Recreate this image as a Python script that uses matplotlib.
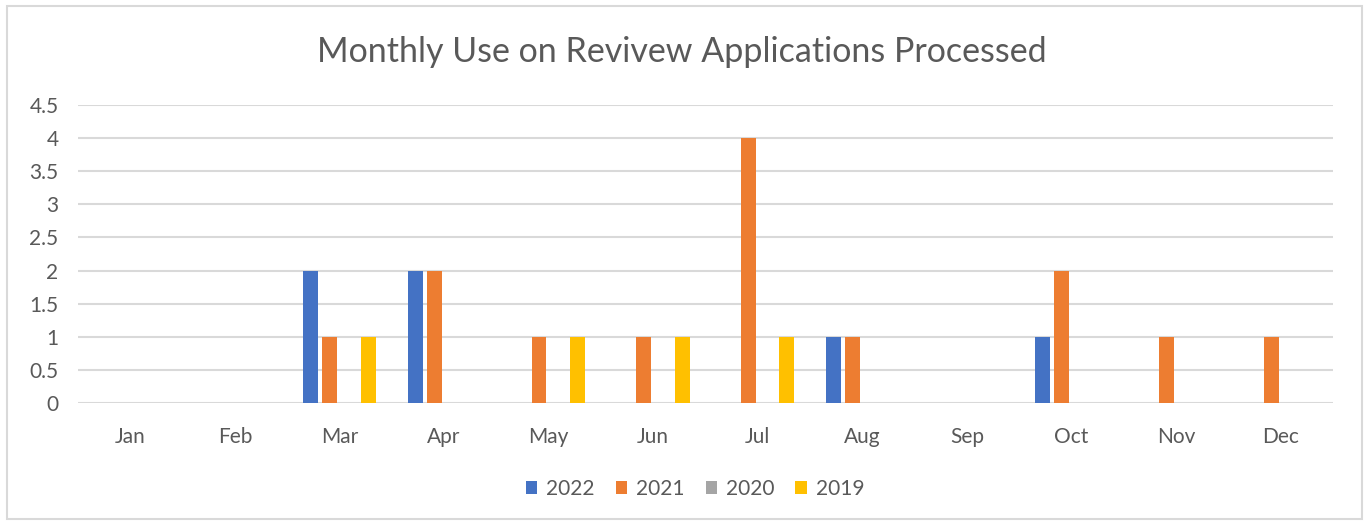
import numpy as np
import matplotlib.pyplot as plt
from matplotlib.patches import Rectangle

months = ["Jan", "Feb", "Mar", "Apr", "May", "Jun", "Jul", "Aug", "Sep", "Oct", "Nov", "Dec"]
years = ["2022", "2021", "2020", "2019"]
v2022 = [0, 0, 2, 2, 0, 0, 0, 1, 0, 1, 0, 0]
v2021 = [0, 0, 1, 2, 1, 1, 4, 1, 0, 2, 1, 1]
v2020 = [0, 0, 0, 0, 0, 0, 0, 0, 0, 0, 0, 0]
v2019 = [0, 0, 1, 0, 1, 1, 1, 0, 0, 0, 0, 0]
colors = ["#4472C4", "#ED7D31", "#A5A5A5", "#FFC000"]

plt.rcParams['font.family'] = ['Lato', 'DejaVu Sans']

fig = plt.figure(figsize=(13.64, 5.23), dpi=100)
ax = fig.add_axes([0.0572, 0.2289, 0.9201, 0.5709])

x = np.arange(len(months))
pitch = 0.1845
width = 0.143
series = [v2022, v2021, v2020, v2019]
for i, vals in enumerate(series):
    ax.bar(x + (i - 1.5) * pitch, vals, width, color=colors[i], label=years[i], zorder=3)

ax.set_xlim(-0.5, 11.5)
ax.set_ylim(0, 4.5)
ax.set_yticks(np.arange(0, 4.51, 0.5))
ax.set_yticklabels(["0", "0.5", "1", "1.5", "2", "2.5", "3", "3.5", "4", "4.5"])
ax.set_xticks(x)
ax.set_xticklabels(months)
ax.tick_params(axis='both', length=0, labelsize=15, labelcolor="#595959")
ax.tick_params(axis='x', pad=17)
ax.tick_params(axis='y', pad=14)
ax.grid(axis='y', color="#D9D9D9", linewidth=1.5, zorder=0)
for s in ax.spines.values():
    s.set_visible(False)

fig.text(0.5, 0.9, "Monthly Use on Revivew Applications Processed", ha='center', va='center',
         fontsize=24.5, color="#595959")

ax.legend(loc='center', bbox_to_anchor=(0.4917, (489 - 403.3) / -298.6), ncol=4, frameon=False,
          fontsize=15, labelcolor="#595959", handlelength=0.55, handleheight=0.55,
          handletextpad=0.43, columnspacing=1.0, bbox_transform=ax.transAxes)

fig.patches.append(Rectangle((7 / 1364, 4 / 523), 1355 / 1364, 513 / 523, transform=fig.transFigure,
                             fill=False, edgecolor="#D9D9D9", linewidth=1.5))

fig.savefig("out.png", dpi=100)
